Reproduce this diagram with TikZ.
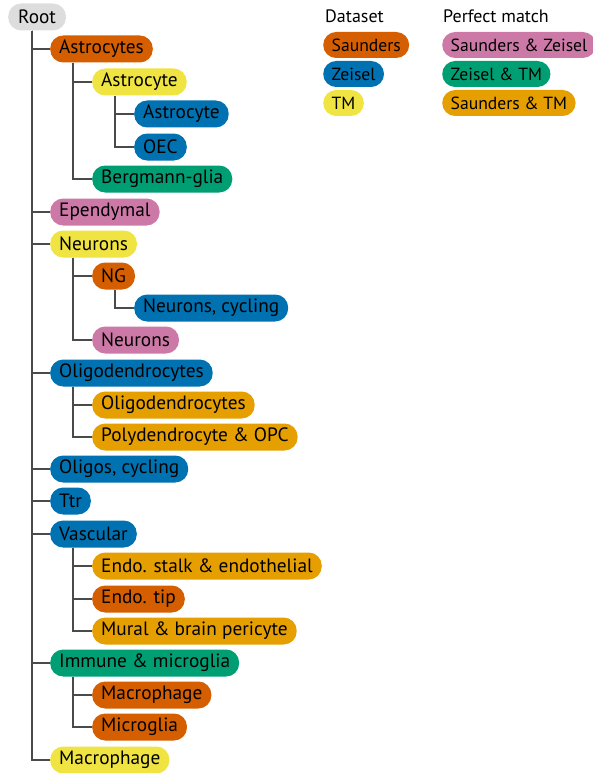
\documentclass[tikz,border=0pt]{standalone}
\usepackage{fontspec}
\setmainfont{PT Sans}
\usepackage{tikz}
\usetikzlibrary{positioning}

\definecolor{saunders}{HTML}{D55E00}
\definecolor{zeisel}{HTML}{0072B2}
\definecolor{tm}{HTML}{F0E442}
\definecolor{saunzeis}{HTML}{CC79A7}
\definecolor{zeistm}{HTML}{009E73}
\definecolor{sauntm}{HTML}{E69F00}
\definecolor{rootgray}{HTML}{DDDDDD}
\definecolor{linegray}{HTML}{4A4A4A}

\begin{document}
\begin{tikzpicture}[x=1pt,y=-1pt]
    \tikzset{cell/.style = {shape=rectangle, rounded corners=13pt, minimum height=27pt, inner xsep=9pt, inner ysep=0pt, anchor=west, font=\fontsize{19.3}{21}\selectfont}}
    \tikzset{sa/.style = {cell, fill=saunders}}
    \tikzset{ze/.style = {cell, fill=zeisel}}
    \tikzset{tmc/.style = {cell, fill=tm}}
    \tikzset{sz/.style = {cell, fill=saunzeis}}
    \tikzset{zt/.style = {cell, fill=zeistm}}
    \tikzset{st/.style = {cell, fill=sauntm}}
    \tikzset{legcell/.style = {font=\fontsize{17.6}{20}\selectfont, minimum height=26pt, inner xsep=8.5pt}}
    \tikzset{branch/.style = {draw=linegray, line width=1.3pt}}
    \tikzset{heading/.style = {anchor=west, inner sep=0pt, font=\fontsize{18}{20}\selectfont}}

    \useasboundingbox (0,0) rectangle (592,773);

    % tree
    \node[cell, fill=rootgray, inner xsep=10pt] (root) at (8, 17) {Root};
    \node[sa] (astros) at (50, 49) {Astrocytes};
    \node[tmc] (astroTM) at (92, 82) {Astrocyte};
    \node[ze] (astroZe) at (134, 114) {Astrocyte};
    \node[ze] (oec) at (134, 147) {OEC};
    \node[zt] (bergmann) at (92, 179) {Bergmann-glia};
    \node[sz] (ependymal) at (50, 212) {Ependymal};
    \node[tmc] (neurons) at (50, 244) {Neurons};
    \node[sa] (ng) at (92, 276) {NG};
    \node[ze] (neurcyc) at (134, 308) {Neurons, cycling};
    \node[sz] (neurSZ) at (92, 340) {Neurons};
    \node[ze] (oligos) at (50, 373) {Oligodendrocytes};
    \node[st] (oligoST) at (92, 405) {Oligodendrocytes};
    \node[st] (polyd) at (92, 437) {Polydendrocyte \& OPC};
    \node[ze] (oligcyc) at (50, 469) {Oligos, cycling};
    \node[ze] (ttr) at (50, 501) {Ttr};
    \node[ze] (vascular) at (50, 534) {Vascular};
    \node[st] (stalk) at (92, 566) {Endo. stalk \& endothelial};
    \node[sa] (tip) at (92, 599) {Endo. tip};
    \node[st] (mural) at (92, 631) {Mural \& brain pericyte};
    \node[zt] (immune) at (50, 663) {Immune \& microglia};
    \node[sa] (macroSa) at (92, 695) {Macrophage};
    \node[sa] (microglia) at (92, 727) {Microglia};
    \node[tmc] (macroTM) at (50, 760) {Macrophage};

    % connectors
    \foreach \child in {astros, ependymal, neurons, oligos, oligcyc, ttr, vascular, immune, macroTM}
        \draw[branch] ([xshift=24pt]root.south west) |- (\child.west);
    \foreach \child in {astroTM, bergmann}
        \draw[branch] ([xshift=23pt]astros.south west) |- (\child.west);
    \foreach \child in {astroZe, oec}
        \draw[branch] ([xshift=23pt]astroTM.south west) |- (\child.west);
    \foreach \child in {ng, neurSZ}
        \draw[branch] ([xshift=23pt]neurons.south west) |- (\child.west);
    \draw[branch] ([xshift=23pt]ng.south west) |- (neurcyc.west);
    \foreach \child in {oligoST, polyd}
        \draw[branch] ([xshift=23pt]oligos.south west) |- (\child.west);
    \foreach \child in {stalk, tip, mural}
        \draw[branch] ([xshift=23pt]vascular.south west) |- (\child.west);
    \foreach \child in {macroSa, microglia}
        \draw[branch] ([xshift=23pt]immune.south west) |- (\child.west);

    % legend
    \node[heading] (dataset) at (325, 16) {Dataset};
    \node[sa, legcell] (legSa) at (323, 45) {Saunders};
    \node[ze, legcell] (legZe) at (323, 74) {Zeisel};
    \node[tmc, legcell] (legTM) at (323, 103) {TM};
    \node[heading] (perfect) at (443, 16) {Perfect match};
    \node[sz, legcell] (legSZ) at (442, 45) {Saunders \& Zeisel};
    \node[zt, legcell] (legZT) at (442, 74) {Zeisel \& TM};
    \node[st, legcell] (legST) at (442, 103) {Saunders \& TM};
\end{tikzpicture}
\end{document}
